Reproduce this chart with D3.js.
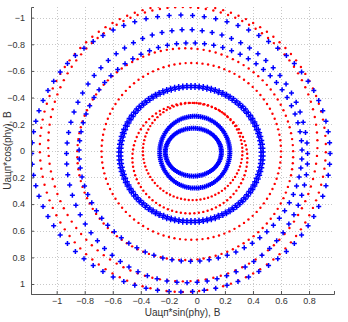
<!DOCTYPE html>
<html>
<head>
<meta charset="utf-8">
<script src="https://cdn.jsdelivr.net/npm/d3@7"></script>
<style>
  html, body { margin: 0; padding: 0; background: #fff; }
  svg { display: block; }
  text { font-family: "Liberation Sans", Arial, sans-serif; }
</style>
</head>
<body>
<svg id="chart" width="348" height="322"></svg>
<script>
// Measured rings: each ring is one amplitude level swept through the phase.
// Series (marker), centre, semi-axes and number of samples per ring.
const ringSeries = ["blue", "blue", "red", "red", "blue", "blue", "red", "red", "blue", "blue", "red", "red", "blue"];
const ringCx     = [-0.025, -0.015, -0.030, -0.050, -0.042, -0.042, -0.040, -0.083, -0.045, -0.070, -0.100, -0.100, -0.114];
const ringCy     = [ 0.010,  0.010,  0.005,  0.055,  0.024,  0.024,  0.004,  0.025,  0.010,  0.040, -0.050, -0.020,  0.020];
const ringRx     = [ 0.200,  0.250,  0.355,  0.410,  0.500,  0.515,  0.640,  0.770,  0.795,  0.860,  0.960,  1.020,  1.064];
const ringRy     = [ 0.180,  0.270,  0.365,  0.415,  0.500,  0.515,  0.664,  0.795,  0.820,  0.950,  1.030,  1.080,  1.040];
const ringCount  = [90, 110, 80, 80, 110, 110, 100, 110, 75, 75, 110, 110, 80];

const xTicks = [-1, -0.8, -0.6, -0.4, -0.2, 0, 0.2, 0.4, 0.6, 0.8];
const yTicks = [-1, -0.8, -0.6, -0.4, -0.2, 0, 0.2, 0.4, 0.6, 0.8, 1];
const xDomain = [-1.183, 0.978];
const yDomain = [-1.08, 1.075];
const xLabel = "Uацп*sin(phy), B";
const yLabel = "Uацп*cos(phy), B";

const plot = { left: 31, right: 334, top: 7, bottom: 294 };

const svg = d3.select("#chart");
const x = d3.scaleLinear().domain(xDomain).range([plot.left, plot.right]);
const y = d3.scaleLinear().domain(yDomain).range([plot.top, plot.bottom]);

// Sample points along every ring
const points = [];
ringSeries.forEach((s, i) => {
  const n = ringCount[i];
  for (let k = 0; k < n; k++) {
    const t = 2 * Math.PI * k / n;
    points.push({
      series: s,
      u: ringCx[i] + ringRx[i] * Math.sin(t),
      v: ringCy[i] + ringRy[i] * Math.cos(t)
    });
  }
});

// Grid
const grid = svg.append("g").attr("stroke", "#c8c8c8").attr("stroke-width", 1)
  .attr("stroke-dasharray", "1,2");
grid.selectAll("line.gx").data(xTicks).join("line")
  .attr("x1", d => Math.round(x(d)) + 0.5).attr("x2", d => Math.round(x(d)) + 0.5)
  .attr("y1", plot.top).attr("y2", plot.bottom);
grid.selectAll("line.gy").data(yTicks).join("line")
  .attr("y1", d => Math.round(y(d)) + 0.5).attr("y2", d => Math.round(y(d)) + 0.5)
  .attr("x1", plot.left).attr("x2", plot.right);

// Marks, clipped to the axes box
svg.append("clipPath").attr("id", "clip").append("rect")
  .attr("x", plot.left).attr("y", plot.top)
  .attr("width", plot.right - plot.left).attr("height", plot.bottom - plot.top);
const marks = svg.append("g").attr("clip-path", "url(#clip)");

marks.selectAll("circle").data(points.filter(p => p.series === "red")).join("circle")
  .attr("cx", d => x(d.u)).attr("cy", d => y(d.v)).attr("r", 1.2)
  .attr("fill", "#ff0000");

marks.selectAll("path").data(points.filter(p => p.series === "blue")).join("path")
  .attr("transform", d => `translate(${x(d.u)},${y(d.v)})`)
  .attr("d", "M-2.5,0H2.5M0,-2.5V2.5")
  .attr("stroke", "#0000ff").attr("stroke-width", 1.5).attr("fill", "none");

// Axes
const xAxis = d3.axisBottom(x).tickValues(xTicks).tickSize(-3).tickPadding(4)
  .tickFormat(d => d3.format("")(d));
const yAxis = d3.axisLeft(y).tickValues(yTicks).tickSize(-3).tickPadding(6)
  .tickFormat(d => d3.format("")(d));

const gx = svg.append("g").attr("transform", `translate(0,${plot.bottom})`).call(xAxis);
const gy = svg.append("g").attr("transform", `translate(${plot.left},0)`).call(yAxis);
[gx, gy].forEach(g => {
  g.select(".domain").attr("stroke", "#555");
  g.selectAll(".tick line").attr("stroke", "#555");
  g.selectAll(".tick text").attr("fill", "#333").attr("font-size", 9)
    .attr("font-family", "Liberation Sans, Arial, sans-serif");
});

svg.append("text").attr("x", (plot.left + plot.right) / 2).attr("y", 316)
  .attr("text-anchor", "middle").attr("font-size", 10).attr("fill", "#333")
  .text(xLabel);
svg.append("text")
  .attr("transform", `translate(11,${(plot.top + plot.bottom) / 2}) rotate(-90)`)
  .attr("text-anchor", "middle").attr("font-size", 10).attr("fill", "#333")
  .text(yLabel);
</script>
</body>
</html>
